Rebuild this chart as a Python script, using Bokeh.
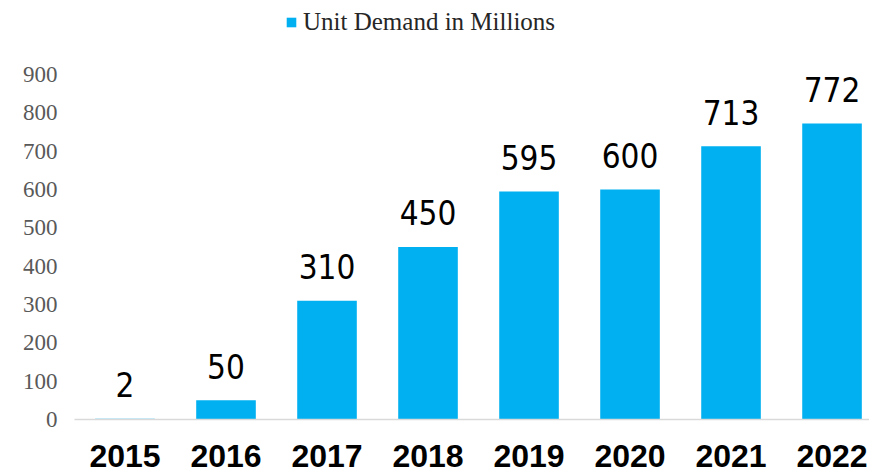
from bokeh.plotting import figure
from bokeh.models import Range1d, FixedTicker, Legend, LegendItem, ColumnDataSource
from bokeh.core.properties import value
from bokeh.embed import file_html
from bokeh.resources import INLINE

years = ["2015", "2016", "2017", "2018", "2019", "2020", "2021", "2022"]
demand = [2, 50, 310, 450, 595, 600, 713, 772]
y_ticks = [0, 100, 200, 300, 400, 500, 600, 700, 800, 900]
series_name = "Unit Demand in Millions"

xs = list(range(len(years)))
src = ColumnDataSource(dict(x=xs, top=demand, lab=[str(v) for v in demand]))

p = figure(width=869, height=473, output_backend="svg", toolbar_location=None,
           x_range=Range1d(-0.5, 7.371), y_range=Range1d(0, 1093),
           min_border_left=74, min_border_right=0, min_border_top=0, min_border_bottom=54)
p.outline_line_color = None
p.xgrid.visible = False
p.ygrid.visible = False
p.background_fill_color = "white"
p.border_fill_color = "white"

r = p.vbar(x="x", top="top", width=0.59, bottom=0, source=src,
           fill_color="#00B0F0", line_color=None)

p.text(x="x", y="top", text="lab", source=src, text_align="center",
       text_baseline="alphabetic", y_offset=-34,
       text_font=value("DejaVu Sans Condensed, Liberation Sans, sans-serif"),
       text_font_size="33px", text_color="black")

p.xaxis.ticker = FixedTicker(ticks=xs)
p.xaxis.major_label_overrides = {i: y for i, y in enumerate(years)}
p.xaxis.axis_line_color = "#D9D9D9"
p.xaxis.axis_line_width = 1.5
p.xaxis.major_tick_line_color = None
p.xaxis.minor_tick_line_color = None
p.xaxis.major_label_text_font = "Liberation Sans"
p.xaxis.major_label_text_font_style = "bold"
p.xaxis.major_label_text_font_size = "32px"
p.xaxis.major_label_text_color = "black"
p.xaxis.major_label_standoff = 19

p.yaxis.ticker = FixedTicker(ticks=y_ticks)
p.yaxis.axis_line_color = None
p.yaxis.major_tick_line_color = None
p.yaxis.minor_tick_line_color = None
p.yaxis.major_tick_out = 0
p.yaxis.major_label_text_font = "Liberation Serif"
p.yaxis.major_label_text_font_size = "23px"
p.yaxis.major_label_text_color = "#595959"
p.yaxis.major_label_standoff = 17

legend = Legend(items=[LegendItem(label=series_name, renderers=[r])],
                orientation="horizontal", location=(211, 383),
                border_line_color=None, background_fill_alpha=0,
                label_text_font="Liberation Serif", label_text_font_size="25px",
                label_text_color="#262626", glyph_width=12, glyph_height=12,
                label_standoff=6, padding=0, margin=0)
p.add_layout(legend)

open("out.html", "w").write(file_html(p, INLINE))
